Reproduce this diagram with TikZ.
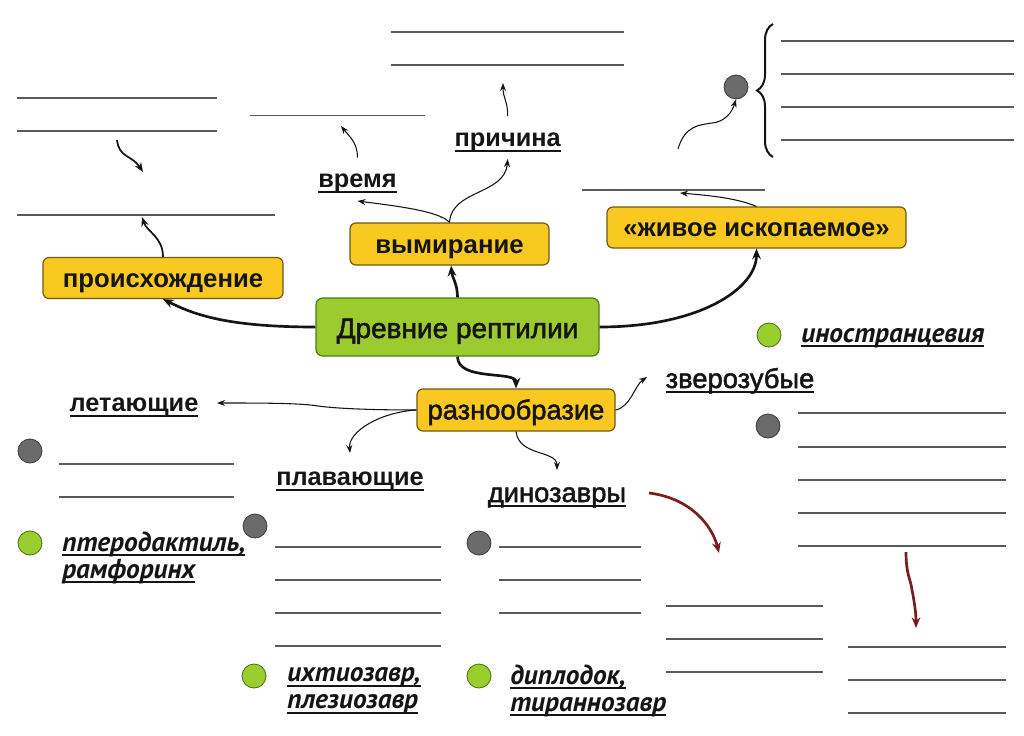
\documentclass[tikz,border=0pt]{standalone}
\usepackage{fontspec}
\setmainfont{Liberation Sans}
\newfontfamily\itf{PT Sans}
\newfontfamily\medf[FakeBold=1.8]{Liberation Sans}
\usetikzlibrary{calc,arrows.meta,decorations.pathreplacing}
\definecolor{boxy}{HTML}{F9C922}
\definecolor{boxyd}{HTML}{6E5A10}
\definecolor{boxg}{HTML}{9BCB2F}
\definecolor{boxgd}{HTML}{4F7A16}
\definecolor{dotg}{HTML}{9ACD2E}
\definecolor{dotgd}{HTML}{4A6E14}
\definecolor{dotgray}{HTML}{6B6B6D}
\definecolor{dotgrayd}{HTML}{3A3A3A}
\definecolor{linegray}{HTML}{5A5A5A}
\definecolor{darkred}{HTML}{7A1C1F}
\definecolor{txt}{HTML}{151515}
\newcommand\myul[1]{\leavevmode\setbox0=\hbox{#1}\rlap{\rule[-3.8pt]{\wd0}{1.5pt}}\box0}
\begin{document}
\begin{tikzpicture}[x=0.75pt,y=-0.75pt,
  ybox/.style={draw=boxyd, fill=boxy, rounded corners=4.5pt, line width=0.9pt, inner sep=0pt, text=txt, text height=14pt, text depth=0pt, font=\fontsize{19.3}{22}\selectfont\bfseries},
  gbox/.style={draw=boxgd, fill=boxg, rounded corners=5pt, line width=0.9pt, inner sep=0pt, text=txt, text height=16.5pt, text depth=0pt, font=\medf\fontsize{21}{24}\selectfont},
  lbl/.style={inner sep=0pt, anchor=base, text=txt, font=\fontsize{19}{22}\selectfont\bfseries},
  lblr/.style={inner sep=0pt, anchor=base, text=txt, font=\medf\fontsize{20.5}{24}\selectfont},
  itl/.style={inner sep=0pt, text=txt, align=left, font=\itf\fontsize{20.5}{20.25}\selectfont\bfseries\itshape},
  gdot/.style={circle, draw=dotgrayd, fill=dotgray, line width=0.6pt, minimum size=18pt, inner sep=0pt},
  ldot/.style={circle, draw=dotgd, fill=dotg, line width=0.6pt, minimum size=18pt, inner sep=0pt},
  blank/.style={draw=linegray, line width=1.1pt},
  thinarr/.style={draw=txt, line width=0.8pt, -{Stealth[length=6pt,width=4.5pt]}},
  medarr/.style={draw=txt, line width=1.3pt, -{Stealth[length=7pt,width=5.5pt]}},
  thickarr/.style={draw=txt, line width=2pt, -{Stealth[length=8pt,width=6.5pt]}},
  redarr/.style={draw=darkred, line width=2pt, -{Stealth[length=8pt,width=6.5pt]}}
]
\useasboundingbox[fill=white] (0,0) rectangle (1024,735);

% blank lines
\draw[blank] (17,98) -- (217,98);
\draw[blank] (17,131) -- (217,131);
\draw[blank] (17,215) -- (275,215);
\draw[blank] (250,115.5) -- (425,115.5);
\draw[blank] (391,32) -- (624,32);
\draw[blank] (391,65) -- (624,65);
\draw[blank] (582,190) -- (765,190);
\foreach \yy in {41,74,107,140} \draw[blank] (781,\yy) -- (1014,\yy);
\foreach \yy in {464,497} \draw[blank] (59,\yy) -- (234,\yy);
\foreach \yy in {547,580,613,646} \draw[blank] (275,\yy) -- (441,\yy);
\foreach \yy in {547,580,613} \draw[blank] (499,\yy) -- (641,\yy);
\foreach \yy in {413,447,480,513,546} \draw[blank] (798,\yy) -- (1006,\yy);
\foreach \yy in {606,639,672} \draw[blank] (666,\yy) -- (823,\yy);
\foreach \yy in {647,680,713} \draw[blank] (848,\yy) -- (1006,\yy);

% brace
\draw[draw=txt, line width=1.5pt, decorate, decoration={brace, amplitude=12pt}] (773,157) -- (773,24);

% boxes
\node[ybox, minimum width=180pt, minimum height=30.75pt] (P) at (163,278) {происхождение};
\node[ybox, minimum width=149.25pt, minimum height=31.5pt] (V) at (449.5,244) {вымирание};
\node[ybox, minimum width=224.25pt, minimum height=30.75pt] (L) at (756.5,227.5) {«живое ископаемое»};
\node[gbox, minimum width=212.25pt, minimum height=43.5pt] (D) at (457.5,327) {Древние рептилии};
\node[ybox, font=\medf\fontsize{20.5}{24}\selectfont, minimum width=148.5pt, minimum height=31.5pt] (R) at (516,410) {разнообразие};

% labels
\node[lbl] (vr) at (357.5,187.5) {\myul{время}};
\node[lbl] (pr) at (507.7,146.5) {\myul{причина}};
\node[lbl] (let) at (134,411.5) {\myul{летающие}};
\node[lbl] (pla) at (350,485.5) {\myul{плавающие}};
\node[lblr] (din) at (557,502) {\myul{динозавры}};
\node[lblr] (zv) at (740,388) {\myul{зверозубые}};
\node[itl, anchor=base west] (ino) at (801,342) {\myul{иностранцевия}};
\node[itl, anchor=west] (pte) at (62,557.75) {\myul{птеродактиль,}\\\myul{рамфоринх}};
\node[itl, anchor=west] (ixt) at (287,690.75) {\myul{ихтиозавр,}\\\myul{плезиозавр}};
\node[itl, anchor=west] (dip) at (510,690.75) {\myul{диплодок,}\\\myul{тираннозавр}};

% dots
\node[gdot] (g1) at (736,87) {};
\node[gdot] (g2) at (30,451) {};
\node[gdot] (g3) at (255,526) {};
\node[gdot] (g4) at (479,543) {};
\node[gdot] (g5) at (768,426) {};
\node[ldot] (l1) at (769,335) {};
\node[ldot] (l2) at (30,543) {};
\node[ldot] (l3) at (254,676) {};
\node[ldot] (l4) at (479,676) {};

% free ends
\coordinate (c1) at (341,126);
\coordinate (c2) at (503,83);
\coordinate (c3) at (680,193);
\coordinate (c4) at (678,149);
\coordinate (c6) at (117,140);
\coordinate (c7) at (143,172);
\coordinate (c8) at (142,217);
\coordinate (r1s) at (649,493);
\coordinate (r1e) at (719,553);
\coordinate (r2s) at (906,552);
\coordinate (r2e) at (916,628);

% thick connectors
\draw[thickarr] (D.west) .. controls +(-90,0) and +(30,15) .. (P.south);
\draw[thickarr] (D.north) .. controls +(0,-14) and +(1,12) .. ([xshift=1.2pt]V.south);
\draw[thickarr] (D.east) .. controls +(100,0) and +(0,40) .. (L.south);
\draw[thickarr] (D.south) .. controls +(0,25) and +(0,-18) .. (R.north);

% thin connectors
\draw[thinarr] (V.north) .. controls +(-10,-12) and +(30,4) .. ($(vr.base)+(0,13.5)$);
\draw[thinarr] (V.north) .. controls +(2,-33) and +(-3,36) .. ($(pr.base)+(0,12.5)$);
\draw[thinarr] ($(vr.base)+(0,-30)$) .. controls +(0,-15) and +(8,10) .. (c1);
\draw[thinarr] ($(pr.base)+(0,-30.5)$) .. controls +(0,-15) and +(0,15) .. (c2);
\draw[thinarr] (L.north) .. controls +(-20,-8) and +(35,3) .. (c3);
\draw[thinarr] (c4) .. controls (685,125) and (700,125) .. (712,123) .. controls (725,122) and (732,112) .. (g1.south);
\draw[medarr] (c6) .. controls +(2,18) and +(-11,-17) .. (c7);
\draw[medarr] (P.north) .. controls +(0,-20) and +(5,15) .. (c8);
\draw[thinarr] (R.west) .. controls (380,410) and (340,409) .. (318,406) .. controls (300,403) and (260,403) .. ($(let.base)+(83,-8.5)$);
\draw[thinarr] (R.west) .. controls +(-35,2) and +(-2,-22) .. ($(pla.base)+(0,-32.5)$);
\draw[thinarr] (R.east) .. controls +(15,-3) and +(-12,8) .. ($(zv.base)+(-93,-11)$);
\draw[thinarr] (R.south) .. controls +(3,25) and +(0,-20) .. ($(din.base)+(0,-32)$);

% red connectors
\draw[redarr] (r1s) .. controls (690,498) and (712,525) .. (r1e);
\draw[redarr] (r2s) .. controls (906,575) and (911,580) .. (912,590) .. controls (914,600) and (916,612) .. (r2e);
\end{tikzpicture}
\end{document}
